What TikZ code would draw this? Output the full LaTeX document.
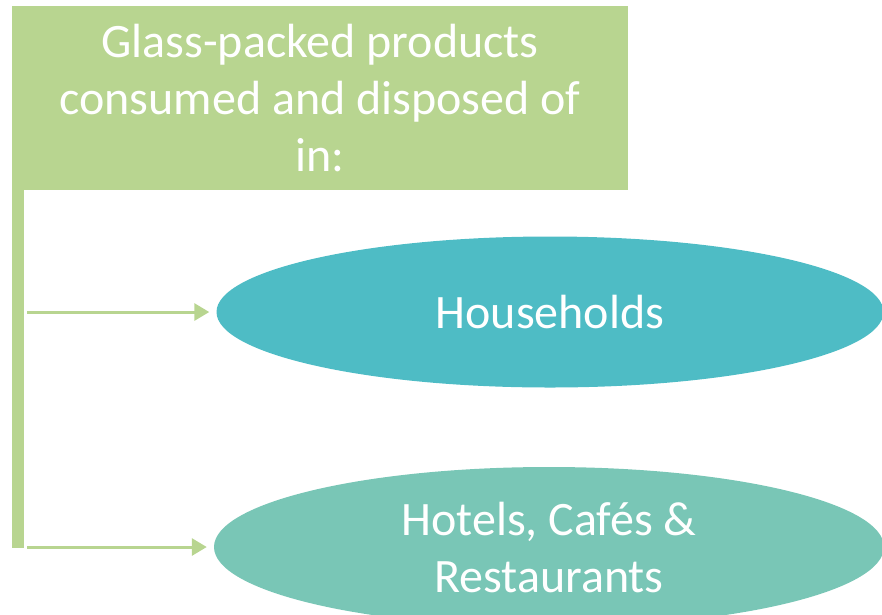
\documentclass[tikz,border=0pt]{standalone}
\usepackage{fontspec}
\setmainfont{Carlito}
\usetikzlibrary{arrows.meta,shapes.geometric}
\definecolor{hdgreen}{HTML}{B8D590}
\definecolor{tealA}{HTML}{4EBCC5}
\definecolor{tealB}{HTML}{79C6B6}
\tikzset{
  hdbox/.style={fill=hdgreen, draw=none, minimum width=616pt, minimum height=184pt, inner sep=0pt, text=white, align=center, font=\fontsize{48}{57}\selectfont},
  oval/.style={ellipse, draw=none, inner sep=0pt, text=white, align=center, font=\fontsize{48}{57}\selectfont},
  conn/.style={draw=hdgreen, line width=3pt, shorten >=7pt, -{Triangle[length=15pt,width=17pt]}}
}
\begin{document}
\begin{tikzpicture}[x=1pt,y=-1pt]
\useasboundingbox (0,0) rectangle (882,614);
\begin{scope}
\clip (0,0) rectangle (882,614);
\node[hdbox] (head) at (320,98) {Glass-packed products\\consumed and disposed of\\in:};
\fill[hdgreen] (12,190) rectangle (24,548);
\coordinate (bar1) at (27,312);
\coordinate (bar2) at (27,547);
\node[oval, fill=tealA, minimum width=667pt, minimum height=151pt] (house) at (550,312) {Households};
\node[oval, fill=tealB, minimum width=670pt, minimum height=160pt] (hcr) at (549,547) {Hotels, Cafés \&\\Restaurants};
\draw[conn] (bar1) -- (bar1 -| house.west);
\draw[conn] (bar2) -- (bar2 -| hcr.west);
\end{scope}
\end{tikzpicture}
\end{document}
